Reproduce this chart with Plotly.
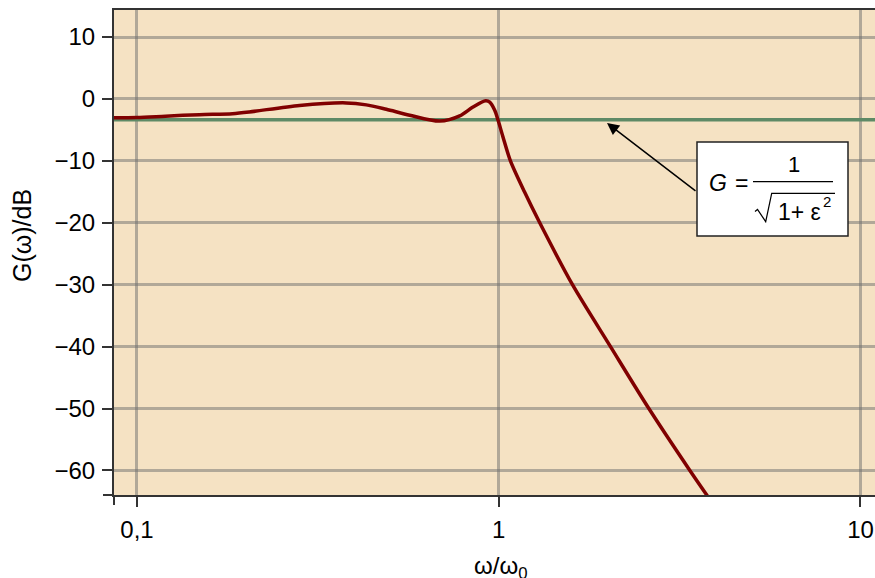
import plotly.graph_objects as go
import math

# ---- data ----
freq_ratio = [0.0857, 0.1, 0.1199, 0.1489, 0.1837, 0.2044, 0.2814, 0.3790,
              0.4305, 0.4890, 0.5672, 0.6867, 0.7801, 0.8489, 0.920, 0.9444, 0.9748,
              0.9956, 1.0265, 1.0774, 1.178, 1.2983, 1.5991, 2.0370, 2.600, 3.376, 3.778]
gain_db = [-3.05, -3.0, -2.78, -2.53, -2.37, -2.10, -1.04, -0.63,
           -0.95, -1.67, -2.62, -3.57, -2.73, -1.31, -0.3, -0.52, -1.83,
           -3.41, -6.05, -10.0, -15.0, -20.0, -30.0, -40.0, -50.0, -60.0, -64.15]
ripple_x = [0.08, 12.0]
ripple_db = [-3.35, -3.35]

x_tickvals = [0.1, 1, 10]
x_ticktext = ["0,1", "1", "10"]
y_tickvals = [-60, -50, -40, -30, -20, -10, 0, 10]

# ---- layout geometry (pixels) ----
W, H = 875, 578
L, R, T, B = 114, 0, 10, 83
PW, PH = W - L - R, H - T - B


def px(xp):
    return (xp - L) / PW


def py(yp):
    return (H - B - yp) / PH


FONT = "Liberation Sans, Arial, sans-serif"
BG = "#F5E2C3"
GRID = "rgba(110,110,110,0.5)"

fig = go.Figure()
fig.add_trace(go.Scatter(x=ripple_x, y=ripple_db, mode="lines",
                         line=dict(color="#5E8A66", width=3.5), hoverinfo="skip"))
fig.add_trace(go.Scatter(x=freq_ratio, y=gain_db, mode="lines",
                         line=dict(color="#800000", width=3.5, shape="spline", smoothing=0.8),
                         hoverinfo="skip"))

shapes = []
# extra end tick marks at the axis corner
shapes.append(dict(type="line", xref="paper", yref="paper", x0=0, x1=0, y0=0, y1=py(505),
                   line=dict(color="#333", width=2)))
shapes.append(dict(type="line", xref="paper", yref="paper", x0=px(103), x1=0, y0=0, y1=0,
                   line=dict(color="#333", width=2)))
# formula box
shapes.append(dict(type="rect", xref="paper", yref="paper", x0=px(697), x1=px(848),
                   y0=py(236), y1=py(142), fillcolor="white",
                   line=dict(color="#222", width=1.5), layer="above"))
# fraction bar
shapes.append(dict(type="line", xref="paper", yref="paper", x0=px(753), x1=px(833),
                   y0=py(181.7), y1=py(181.7), line=dict(color="black", width=1.3), layer="above"))
# radical sign
shapes.append(dict(type="path", xref="paper", yref="paper",
                   path=f"M {px(755)},{py(211.5)} L {px(757.5)},{py(209.5)} L {px(765.7)},{py(221.7)} L {px(771.7)},{py(193.3)} L {px(835)},{py(193.3)}",
                   line=dict(color="black", width=1.2), layer="above"))


def label(xp, yp, text, size, xanchor="center", **kw):
    return dict(x=px(xp), y=py(yp), xref="paper", yref="paper", text=text, showarrow=False,
                xanchor=xanchor, yanchor="middle",
                font=dict(family=FONT, size=size, color="black"), **kw)


annotations = [
    # arrow
    dict(x=px(607), y=py(123), xref="paper", yref="paper", text="", showarrow=True,
         ax=90, ay=69, axref="pixel", ayref="pixel", arrowhead=2, arrowsize=1.6,
         arrowwidth=1.5, arrowcolor="black", standoff=0),
    label(718, 183.5, "<i>G</i>", 23),
    label(741.7, 183.5, "=", 23),
    label(794, 164.2, "1", 22),
    label(776, 211.8, "1+ ε", 23, xanchor="left"),
    label(827, 201.5, "2", 15),
    # axis titles
    label(22, 236, "G(ω)/dB", 25, textangle=-90),
    label(501, 567, "ω/ω<sub>0</sub>", 24),
]

fig.update_layout(
    width=W, height=H,
    margin=dict(l=L, r=R, t=T, b=B, pad=0, autoexpand=False),
    paper_bgcolor="white", plot_bgcolor=BG,
    showlegend=False,
    font=dict(family=FONT, size=24, color="black"),
    shapes=shapes, annotations=annotations,
    xaxis=dict(type="log", range=[math.log10(0.0864), (875 - 499) / 361.5],
               tickvals=x_tickvals, ticktext=x_ticktext, automargin=False,
               ticks="outside", ticklen=10, tickwidth=2, tickcolor="#333",
               showline=True, linecolor="#333", linewidth=2, mirror=True,
               showgrid=True, gridcolor=GRID, gridwidth=3, zeroline=False,
               ticklabelstandoff=2, tickfont=dict(family=FONT, size=24, color="black")),
    yaxis=dict(range=[-63.96, 14.37], tickvals=y_tickvals, automargin=False,
               ticks="outside", ticklen=10, tickwidth=2, tickcolor="#333",
               showline=True, linecolor="#333", linewidth=2, mirror=False,
               showgrid=True, gridcolor=GRID, gridwidth=3, zeroline=False,
               ticklabelstandoff=2, tickfont=dict(family=FONT, size=24, color="black")),
)

fig.write_html("out.html", config={"displayModeBar": False},
               post_script="document.body.style.margin='0';")
